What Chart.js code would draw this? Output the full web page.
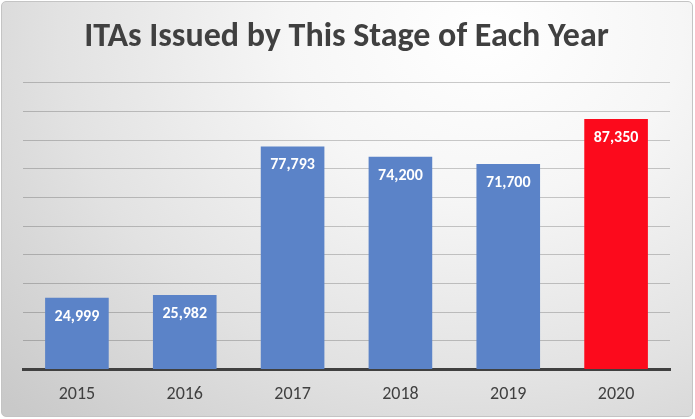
<!DOCTYPE html>
<html lang="en">
<head>
  <meta charset="UTF-8">
  <title>ITAs Issued by This Stage of Each Year</title>
  <script src="https://cdn.jsdelivr.net/npm/chart.js"></script>
  <style>
    html, body {
      margin: 0;
      padding: 0;
      background: #ffffff;
    }

    .chart-box {
      position: absolute;
      left: 1px;
      top: 1px;
      width: 690px;
      height: 414px;
      border: 1px solid #c4c4c4;
      border-radius: 5px;
      overflow: hidden;
      background: radial-gradient(ellipse 95% 130% at 70% 8%, #ffffff 0%, #f6f6f6 30%, #e2e2e2 65%, #c9c9c9 100%);
    }

    canvas {
      position: absolute;
      left: -1px;
      top: -1px;
    }
  </style>
</head>
<body>
  <div class="chart-box">
    <canvas id="itaChart" width="695" height="419"></canvas>
  </div>

  <script>
    // Chart data
    const years = ['2015', '2016', '2017', '2018', '2019', '2020'];
    const itasIssued = [24999, 25982, 77793, 74200, 71700, 87350];
    const barColors = ['#5b83c8', '#5b83c8', '#5b83c8', '#5b83c8', '#5b83c8', '#fc0a1c'];

    const FONT = 'Carlito, Calibri, Lato, sans-serif';

    // White value labels just inside the top of each bar
    const barLabels = {
      id: 'barLabels',
      afterDatasetsDraw(chart) {
        const ctx = chart.ctx;
        const meta = chart.getDatasetMeta(0);
        ctx.save();
        ctx.fillStyle = '#ffffff';
        ctx.font = 'bold 16px ' + FONT;
        ctx.textAlign = 'center';
        ctx.textBaseline = 'middle';
        meta.data.forEach((bar, i) => {
          ctx.fillText(itasIssued[i].toLocaleString('en-US'), bar.x, bar.y + 19);
        });
        ctx.restore();
      }
    };

    new Chart(document.getElementById('itaChart'), {
      type: 'bar',
      data: {
        labels: years,
        datasets: [{
          data: itasIssued,
          backgroundColor: barColors,
          borderWidth: 0,
          categoryPercentage: 1,
          barPercentage: 0.59
        }]
      },
      options: {
        responsive: false,
        animation: false,
        layout: {
          padding: { left: 22, right: 26, top: 0, bottom: 1 }
        },
        scales: {
          x: {
            grid: { display: false, drawTicks: false },
            border: { color: '#404040', width: 3 },
            ticks: {
              color: '#404040',
              font: { family: FONT, size: 18 },
              padding: 14
            }
          },
          y: {
            min: 0,
            max: 100000,
            ticks: { display: false, stepSize: 10000 },
            grid: { color: 'rgba(0,0,0,0.2)', lineWidth: 1, drawTicks: false },
            border: { display: false }
          }
        },
        plugins: {
          legend: { display: false },
          tooltip: { enabled: false },
          title: {
            display: true,
            text: 'ITAs Issued by This Stage of Each Year',
            color: '#404040',
            font: { family: FONT, size: 34, weight: 'bold', lineHeight: 1.2 },
            padding: { top: 16, bottom: 25 }
          }
        }
      },
      plugins: [barLabels]
    });
  </script>
</body>
</html>
